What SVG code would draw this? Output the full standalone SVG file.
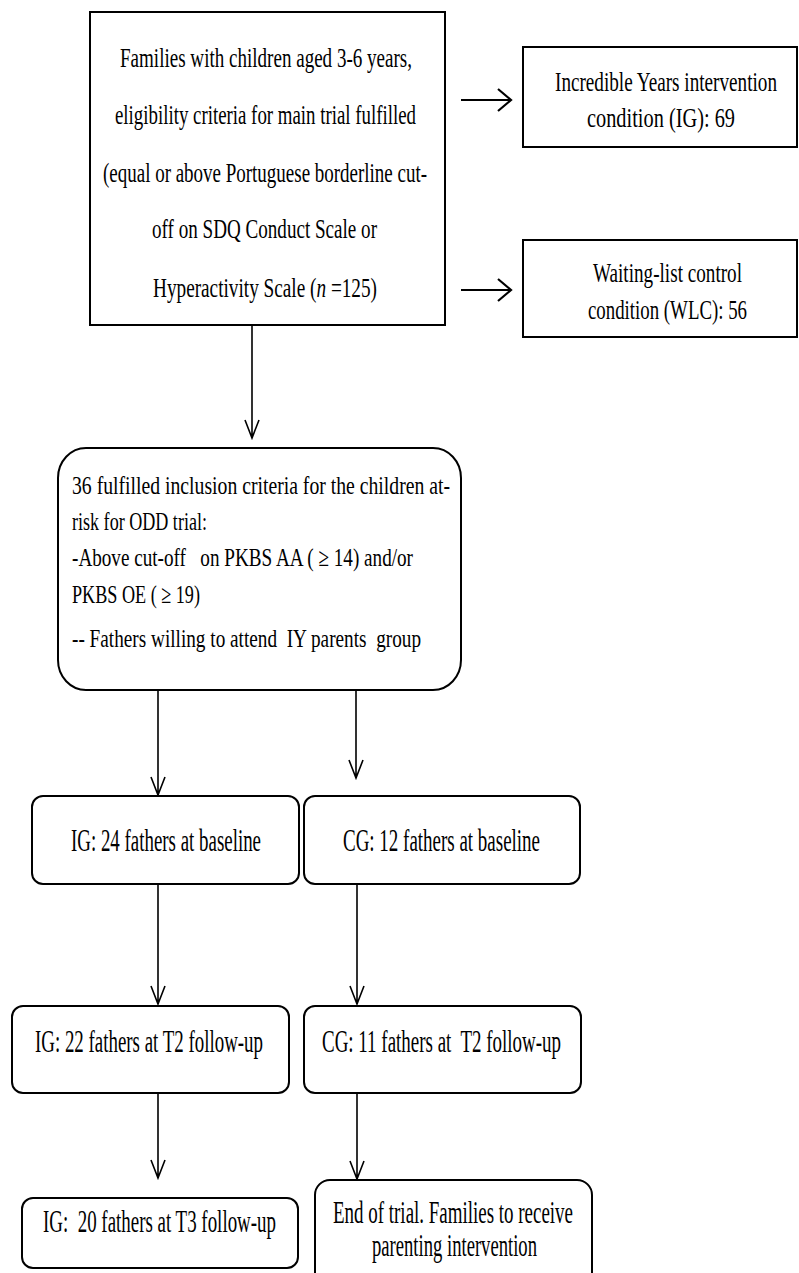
<svg xmlns="http://www.w3.org/2000/svg" width="799" height="1273" viewBox="0 0 799 1273">
<style>
.box{fill:#fff;stroke:#000;stroke-width:2}
text{font-family:'Liberation Serif','DejaVu Serif',serif;fill:#000}
.t1{font-size:27px}
.t2{font-size:26px}
.t3{font-size:31px}
.ln{fill:none;stroke:#000;stroke-width:1.6}
.ar{fill:none;stroke:#000;stroke-width:2.2}
</style>
<rect width="799" height="1273" fill="#fff"/>
<g id="connectors">
<path class="ln" d="M252,325 V438 M245,420 L252,438 L259,420"/>
<path class="ar" d="M461,100 H511 M498,89 L511,100 L498,111"/>
<path class="ar" d="M461,290 H511 M498,279 L511,290 L498,301"/>
<path class="ln" d="M158,690 V795 M151,777 L158,795 L165,777"/>
<path class="ln" d="M356,690 V778 M349,760 L356,778 L363,760"/>
<path class="ln" d="M158,884 V1004 M151,986 L158,1004 L165,986"/>
<path class="ln" d="M357,884 V1004 M350,986 L357,1004 L364,986"/>
<path class="ln" d="M158,1093 V1178 M151,1160 L158,1178 L165,1160"/>
<path class="ln" d="M357,1093 V1179 M350,1161 L357,1179 L364,1161"/>
</g>
<g id="families" font-family="Liberation Serif, serif">
<rect class="box" x="90" y="12" width="355" height="313"/>
<text class="t1" x="120" y="67" textLength="292" lengthAdjust="spacingAndGlyphs">Families with children aged 3-6 years,</text>
<text class="t1" x="115" y="124" textLength="301" lengthAdjust="spacingAndGlyphs">eligibility criteria for main trial fulfilled</text>
<text class="t1" x="103" y="182" textLength="324" lengthAdjust="spacingAndGlyphs">(equal or above Portuguese borderline cut-</text>
<text class="t1" x="152" y="238" textLength="225" lengthAdjust="spacingAndGlyphs">off on SDQ Conduct Scale or</text>
<text class="t1" x="153" y="297" textLength="224" lengthAdjust="spacingAndGlyphs" xml:space="preserve">Hyperactivity Scale (<tspan font-style="italic">n</tspan> =125)</text>
</g>
<g id="ig-condition">
<rect class="box" x="523" y="47" width="274" height="100"/>
<text class="t1" x="555" y="91" textLength="222" lengthAdjust="spacingAndGlyphs">Incredible Years intervention</text>
<text class="t1" x="587" y="127" textLength="148" lengthAdjust="spacingAndGlyphs">condition (IG): 69</text>
</g>
<g id="wlc-condition">
<rect class="box" x="523" y="240" width="274" height="97"/>
<text class="t1" x="593" y="282" textLength="149" lengthAdjust="spacingAndGlyphs">Waiting-list control</text>
<text class="t1" x="588" y="319" textLength="159" lengthAdjust="spacingAndGlyphs">condition (WLC): 56</text>
</g>
<g id="inclusion">
<rect class="box" x="58" y="448" width="403" height="242" rx="28" ry="30"/>
<text class="t2" x="72" y="494" textLength="378" lengthAdjust="spacingAndGlyphs">36 fulfilled inclusion criteria for the children at-</text>
<text class="t2" x="72" y="530" textLength="135" lengthAdjust="spacingAndGlyphs">risk for ODD trial:</text>
<text class="t2" x="72" y="566" textLength="341" lengthAdjust="spacingAndGlyphs" xml:space="preserve">-Above cut-off   on PKBS AA ( ≥ 14) and/or</text>
<text class="t2" x="72" y="603" textLength="128" lengthAdjust="spacingAndGlyphs" xml:space="preserve">PKBS OE ( ≥ 19)</text>
<text class="t2" x="72" y="647" textLength="349" lengthAdjust="spacingAndGlyphs" xml:space="preserve">-- Fathers willing to attend  IY parents  group</text>
</g>
<g id="ig-baseline">
<rect class="box" x="32" y="796" width="267" height="88" rx="11"/>
<text class="t3" x="71" y="851" textLength="190" lengthAdjust="spacingAndGlyphs">IG: 24 fathers at baseline</text>
</g>
<g id="cg-baseline">
<rect class="box" x="304" y="796" width="276" height="88" rx="11"/>
<text class="t3" x="343" y="851" textLength="197" lengthAdjust="spacingAndGlyphs">CG: 12 fathers at baseline</text>
</g>
<g id="ig-t2">
<rect class="box" x="12" y="1006" width="277" height="87" rx="11"/>
<text class="t3" x="35" y="1052" textLength="228" lengthAdjust="spacingAndGlyphs">IG: 22 fathers at T2 follow-up</text>
</g>
<g id="cg-t2">
<rect class="box" x="304" y="1006" width="277" height="87" rx="11"/>
<text class="t3" x="322" y="1052" textLength="239" lengthAdjust="spacingAndGlyphs" xml:space="preserve">CG: 11 fathers at  T2 follow-up</text>
</g>
<g id="ig-t3">
<rect class="box" x="22" y="1198" width="276" height="70" rx="11"/>
<text class="t3" x="43" y="1232" textLength="233" lengthAdjust="spacingAndGlyphs" xml:space="preserve">IG:  20 fathers at T3 follow-up</text>
</g>
<g id="end-trial">
<rect class="box" x="315" y="1180" width="277" height="110" rx="15"/>
<text class="t3" x="333" y="1223" textLength="240" lengthAdjust="spacingAndGlyphs">End of trial. Families to receive</text>
<text class="t3" x="372" y="1256" textLength="165" lengthAdjust="spacingAndGlyphs">parenting intervention</text>
</g>
</svg>
